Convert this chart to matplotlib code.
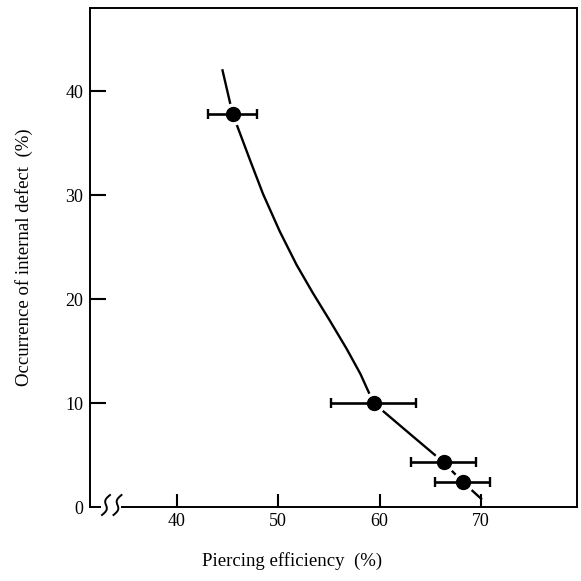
import numpy as np
import matplotlib.pyplot as plt

plt.rcParams['font.family'] = ['Liberation Serif', 'DejaVu Serif']

# measured points with horizontal scatter
eff = [45.5, 59.4, 66.3, 68.2]
defect = [37.8, 10.0, 4.3, 2.4]
eff_err = [2.4, 4.2, 3.2, 2.7]

# fitted curve
curve_x = [44.5, 45.5, 46.2, 47.2, 48.5, 50.15, 51.8, 53.4, 55.1, 56.75,
           58.1, 59.4, 62.9, 66.3, 68.2, 70.0]
curve_y = [42.0, 37.8, 36.0, 33.4, 30.1, 26.5, 23.3, 20.6, 17.9, 15.2,
           12.8, 10.0, 7.1, 4.3, 2.4, 0.8]

xticks = [40, 50, 60, 70]
yticks = [0, 10, 20, 30, 40]

fig = plt.figure(figsize=(5.81, 5.81), dpi=100)
ax = fig.add_axes([90/581, 1-507/581, 487/581, 499/581])

ax.plot(curve_x, curve_y, color='black', lw=1.7, zorder=1)
# white halo so the curve stops short of each dot
ax.plot(eff, defect, 'o', ms=15, color='white', zorder=2)
ax.errorbar(eff, defect, xerr=eff_err, fmt='none', ecolor='black',
            elinewidth=1.9, capsize=3.5, capthick=1.7, zorder=3)
ax.plot(eff, defect, 'o', ms=10, color='black', zorder=4)

ax.set_xlim(31.43, 79.46)
ax.set_ylim(0, 48.0)
ax.set_xticks(xticks)
ax.set_yticks(yticks)
ax.tick_params(axis='x', direction='in', length=9.5, width=1.5, pad=4, labelsize=13)
ax.tick_params(axis='y', direction='in', length=11.5, width=1.5, pad=5, labelsize=13)
ax.yaxis.get_major_ticks()[0].tick1line.set_visible(False)

for s in ax.spines.values():
    s.set_linewidth(1.4)

# broken x axis near the origin
ax.spines['bottom'].set_visible(False)
tr = ax.transAxes
ax.plot([0, 10/487], [0, 0], color='black', lw=1.4, transform=tr, clip_on=False)
ax.plot([32/487, 1], [0, 0], color='black', lw=1.4, transform=tr, clip_on=False)
s = np.linspace(-1, 1, 40)
for xc in [106, 117.5]:
    xs = (xc - 90 + 4*s - 2.5*np.sin(np.pi*s)) / 487
    ys = (2 + 10*s) / 499
    ax.plot(xs, ys, color='black', lw=1.4, transform=tr, clip_on=False)

ax.set_xlabel('Piercing efficiency  (%)', fontsize=13.5)
ax.xaxis.set_label_coords(0.415, -0.09)
ax.set_ylabel('Occurrence of internal defect  (%)', fontsize=13.5)
ax.yaxis.set_label_coords(-0.117, 0.5)

fig.savefig('out.png', dpi=100)
